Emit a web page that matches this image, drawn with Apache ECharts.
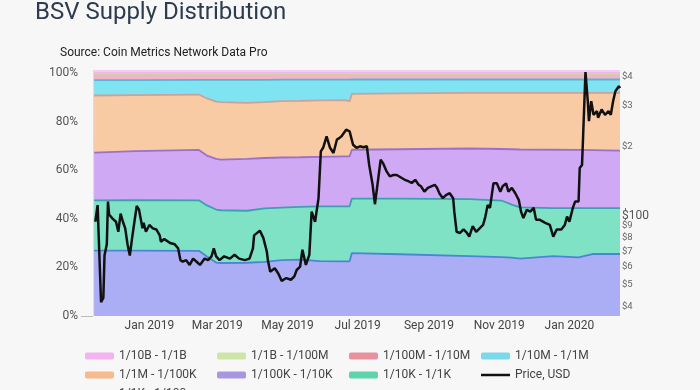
<!DOCTYPE html>
<html><head><meta charset="utf-8">
<script src="https://cdn.jsdelivr.net/npm/echarts@6/dist/echarts.min.js"></script>
<style>html,body{margin:0;padding:0;background:#f7f7f7;}#c{width:700px;height:390px;}</style>
</head><body><div id="c"></div>
<script>
const bandDates = ['2018-11-14','2018-12-20','2019-02-13','2019-02-20','2019-02-28','2019-03-04','2019-03-27','2019-04-11','2019-04-26','2019-05-12','2019-05-29','2019-06-20','2019-06-24','2019-06-26','2019-08-07','2019-10-06','2019-11-03','2019-11-12','2019-11-19','2019-12-18','2020-01-09','2020-01-21','2020-02-14'];
const band1K   = [26.9,26.9,26.8,24.5,22.0,21.8,21.9,22.3,23.0,23.2,22.6,22.5,22.5,25.9,25.4,24.6,24.2,24.0,23.6,24.6,24.1,25.5,25.5];
const band10K  = [20.7,20.8,20.8,21.0,21.8,21.7,21.4,22.0,21.6,21.7,22.5,22.6,22.6,22.4,22.9,23.5,23.3,21.8,21.1,19.8,20.3,18.9,18.9];
const band100K = [19.6,20.1,20.7,20.5,20.8,20.8,21.3,20.7,20.6,20.4,20.4,20.6,20.6,20.1,20.3,20.8,21.2,22.8,23.8,24.0,23.9,23.8,23.6];
const band1M   = [23.5,23.1,22.8,23.5,23.6,23.7,23.1,23.0,23.2,23.2,23.2,23.1,22.7,23.0,23.0,22.9,23.1,23.2,23.3,23.4,23.5,23.6,23.8];
const band10M  = [6.3,6.1,6.0,7.6,8.9,9.1,9.4,9.1,8.8,8.7,8.5,8.4,8.8,5.9,5.7,5.5,5.5,5.5,5.5,5.5,5.5,5.5,5.5];
const band100M = [2.6,2.6,2.5,2.5,2.5,2.5,2.5,2.5,2.4,2.4,2.4,2.4,2.4,2.3,2.3,2.3,2.3,2.3,2.3,2.3,2.3,2.3,2.3];
const band1B   = [0.05,0.05,0.05,0.05,0.05,0.05,0.05,0.05,0.05,0.05,0.05,0.05,0.05,0.05,0.05,0.05,0.05,0.05,0.05,0.05,0.05,0.05,0.05];
const band10B  = [0.35,0.35,0.35,0.35,0.35,0.35,0.35,0.35,0.35,0.35,0.35,0.35,0.35,0.35,0.35,0.35,0.35,0.35,0.35,0.35,0.35,0.35,0.35];

const priceDates = ['2018-11-15','2018-11-17','2018-11-20','2018-11-22','2018-11-23','2018-11-25','2018-11-26','2018-11-27','2018-11-30','2018-12-03','2018-12-05','2018-12-07','2018-12-09','2018-12-11','2018-12-13','2018-12-15','2018-12-17','2018-12-19','2018-12-21','2018-12-23','2018-12-26','2018-12-27','2018-12-29',
'2019-01-01','2019-01-04','2019-01-07','2019-01-10','2019-01-11','2019-01-14','2019-01-19','2019-01-23','2019-01-26','2019-01-28','2019-01-30','2019-02-02','2019-02-05','2019-02-08','2019-02-11','2019-02-14','2019-02-18','2019-02-21','2019-02-24','2019-02-26','2019-02-28',
'2019-03-03','2019-03-07','2019-03-12','2019-03-16','2019-03-20','2019-03-25','2019-03-29','2019-04-01','2019-04-02','2019-04-07','2019-04-10','2019-04-13','2019-04-14','2019-04-16','2019-04-20','2019-04-23','2019-04-26','2019-04-30',
'2019-05-04','2019-05-07','2019-05-09','2019-05-12','2019-05-14','2019-05-17','2019-05-20','2019-05-22','2019-05-25','2019-05-28','2019-05-30','2019-06-01','2019-06-04','2019-06-07','2019-06-10','2019-06-13','2019-06-15','2019-06-17','2019-06-18','2019-06-21','2019-06-24','2019-06-27','2019-06-30',
'2019-07-03','2019-07-06','2019-07-09','2019-07-11','2019-07-14','2019-07-16','2019-07-19','2019-07-21','2019-07-23','2019-07-26','2019-07-29','2019-08-01','2019-08-04','2019-08-05','2019-08-08','2019-08-11','2019-08-14','2019-08-17','2019-08-20','2019-08-23','2019-08-25','2019-08-28','2019-08-31',
'2019-09-03','2019-09-06','2019-09-08','2019-09-10','2019-09-13','2019-09-16','2019-09-19','2019-09-22','2019-09-23','2019-09-25','2019-09-28','2019-10-01','2019-10-04','2019-10-06','2019-10-09','2019-10-12','2019-10-15','2019-10-18','2019-10-20','2019-10-22','2019-10-24','2019-10-27','2019-10-30',
'2019-11-02','2019-11-04','2019-11-07','2019-11-09','2019-11-12','2019-11-15','2019-11-18','2019-11-20','2019-11-22','2019-11-25','2019-11-28','2019-12-01','2019-12-03','2019-12-06','2019-12-11','2019-12-15','2019-12-18','2019-12-21','2019-12-25','2019-12-28','2019-12-30',
'2020-01-01','2020-01-04','2020-01-06','2020-01-09','2020-01-10','2020-01-12','2020-01-13','2020-01-15','2020-01-17','2020-01-18','2020-01-20','2020-01-22','2020-01-25','2020-01-26','2020-01-29','2020-02-01','2020-02-04','2020-02-06','2020-02-08','2020-02-10','2020-02-13','2020-02-14'];
const priceValues = [94,111,42,44,67,75,115,101,97,94,85,102,94,88,75,67,80,94,110,106,88,93,85,
91,88,87,82,77,79,76,75,72,64,63,64,61,65,63,61,65,64,66.5,72,66.5,
64,66.5,65,67.5,65,64,65,72,82,86,80,70,64,57,59,56,52,53.5,
52.6,54.4,58,60,71,61,67.5,104,94,119,190,197,221,197,187,214,217,221,225,236,232,203,197,
200,198,200,166,136,112,146,175,169,156,148,150,150,153,146,143,141,138.5,143,136,134,127,132,
134,136,132,125,119,123,125,119,104,85,84,87,84,81,90,85,88,91,99,111,108,138,138,
127,134,138,127,132,125,117,104,97.5,106,104,108,96,96,93,91,81,87,87,91,99,
94,108,115,115,161,166,225,420,314,257,314,274,284,266,289,274,284,274,314,347,365,358];

const pctTicks = [0,20,40,60,80,100];
const priceTicks = [40,50,60,70,80,90,100,200,300,400];
const monthTicks = ['2019-01-01','2019-03-01','2019-05-01','2019-07-01','2019-09-01','2019-11-01','2020-01-01'];
const monthNames = ['Jan','Feb','Mar','Apr','May','Jun','Jul','Aug','Sep','Oct','Nov','Dec'];
const xStart = '2018-11-13', xEnd = '2020-02-14';

const ts = d => new Date(d + 'T00:00:00Z').getTime();

const bandDefs = [
  {name:'1/1K - 1/100',    data:band1K,   swatch:'#c3c6f5', line:'#4b86d2', fill:'#abaef4'},
  {name:'1/10K - 1/1K',    data:band10K,  swatch:'#5fd3ad', line:'#3aa0b2', fill:'#80e2c5'},
  {name:'1/100K - 1/10K',  data:band100K, swatch:'#a996e2', line:'#9b70c9', fill:'#d0a9f4'},
  {name:'1/1M - 1/100K',   data:band1M,   swatch:'#f6ba8c', line:'#c9a29c', fill:'#f9cba4'},
  {name:'1/10M - 1/1M',    data:band10M,  swatch:'#7ad9ea', line:'#5ab2d8', fill:'#80e3f1'},
  {name:'1/100M - 1/10M',  data:band100M, swatch:'#e9929f', line:'#e2708c', fill:'#f4b4c6'},
  {name:'1/1B - 1/100M',   data:band1B,   swatch:'#cde6a8', line:'#cde6a8', fill:'#d8eec0'},
  {name:'1/10B - 1/1B',    data:band10B,  swatch:'#f3b3ef', line:'#f0b6ee', fill:'#f4c6f2'}
];

const font = 'Roboto';
const series = bandDefs.map(b => ({
  name: b.name, type: 'line', stack: 'supply', symbol: 'none', showSymbol: false,
  xAxisIndex: 0, yAxisIndex: 0,
  data: bandDates.map((d, i) => [d, b.data[i]]),
  itemStyle: {color: b.swatch},
  lineStyle: {color: b.line, width: 1.8},
  areaStyle: {color: b.fill, opacity: 1},
  z: 2, silent: true
}));
series.push({
  name: 'Price, USD', type: 'line', xAxisIndex: 0, yAxisIndex: 1, symbol: 'none', showSymbol: false,
  data: priceDates.map((d, i) => [d, priceValues[i]]),
  itemStyle: {color: '#111'},
  lineStyle: {color: '#111', width: 2.5},
  z: 5
});

const legendText = {fontFamily: font, fontSize: 12, color: '#444', lineHeight: 14};
function legend(left, top, names, extra) {
  return Object.assign({
    orient: 'vertical', left: left, top: top, height: 120, data: names, itemWidth: 29, itemHeight: 7,
    icon: 'roundRect', itemGap: 5, padding: 0, textStyle: legendText, selectedMode: false
  }, extra || {});
}

const chart = echarts.init(document.getElementById('c'), null, {renderer: 'canvas'});
chart.setOption({
  backgroundColor: '#f7f7f7',
  animation: false,
  title: [
    {text: 'BSV Supply Distribution', left: 35, top: 1, padding: 0,
     textStyle: {fontFamily: font, fontSize: 24, fontWeight: 'normal', color: '#2e3b4f'}},
    {text: 'Source: Coin Metrics Network Data Pro', left: 60, top: 47, padding: 0,
     textStyle: {fontFamily: font, fontSize: 12, fontWeight: 'normal', color: '#222'}}
  ],
  grid: {left: 93, right: 80, top: 70, bottom: 74, show: true, backgroundColor: '#f2cdf1', borderWidth: 0},
  legend: [
    legend(85, 349, ['1/10B - 1/1B', '1/1M - 1/100K', '1/1K - 1/100']),
    legend(217, 349, ['1/1B - 1/100M', '1/100K - 1/10K']),
    legend(349, 349, ['1/100M - 1/10M', '1/10K - 1/1K']),
    legend(481, 349, ['1/10M - 1/1M']),
    legend(481, 368, ['Price, USD'], {icon: 'rect', itemHeight: 2.5})
  ],
  xAxis: [
    {type: 'time', min: xStart, max: xEnd,
     axisLine: {show: false}, axisTick: {show: false}, splitLine: {show: false}, axisLabel: {show: false}},
    {type: 'value', min: ts(xStart), max: ts(xEnd), position: 'bottom',
     axisLine: {show: false}, axisTick: {show: false}, splitLine: {show: false},
     axisLabel: {
       customValues: monthTicks.map(ts),
       margin: 4, fontFamily: font, fontSize: 12, color: '#444',
       formatter: function (v) { const d = new Date(v); return monthNames[d.getUTCMonth()] + ' ' + d.getUTCFullYear(); }
     }}
  ],
  yAxis: [
    {type: 'value', min: 0, max: 101.2, position: 'left',
     axisLine: {show: false}, splitLine: {show: false},
     axisTick: {show: true, customValues: [0], length: 12, lineStyle: {color: '#bbb'}},
     axisLabel: {customValues: pctTicks, formatter: '{value}%', margin: 15, fontFamily: font, fontSize: 12, color: '#555'}},
    {type: 'log', min: 36.6, max: 429, position: 'right',
     axisLine: {show: false}, splitLine: {show: false}, axisTick: {show: false},
     axisLabel: {customValues: priceTicks, margin: 2, fontFamily: font, color: '#555',
       formatter: function (v) {
         const r = Math.round(v);
         return r === 100 ? '{b|$100}' : '{s|$' + String(r)[0] + '}';
       },
       rich: {b: {fontFamily: font, fontSize: 12, color: '#555'}, s: {fontFamily: font, fontSize: 9.5, color: '#666'}}}}
  ],
  series: series
});
</script></body></html>
